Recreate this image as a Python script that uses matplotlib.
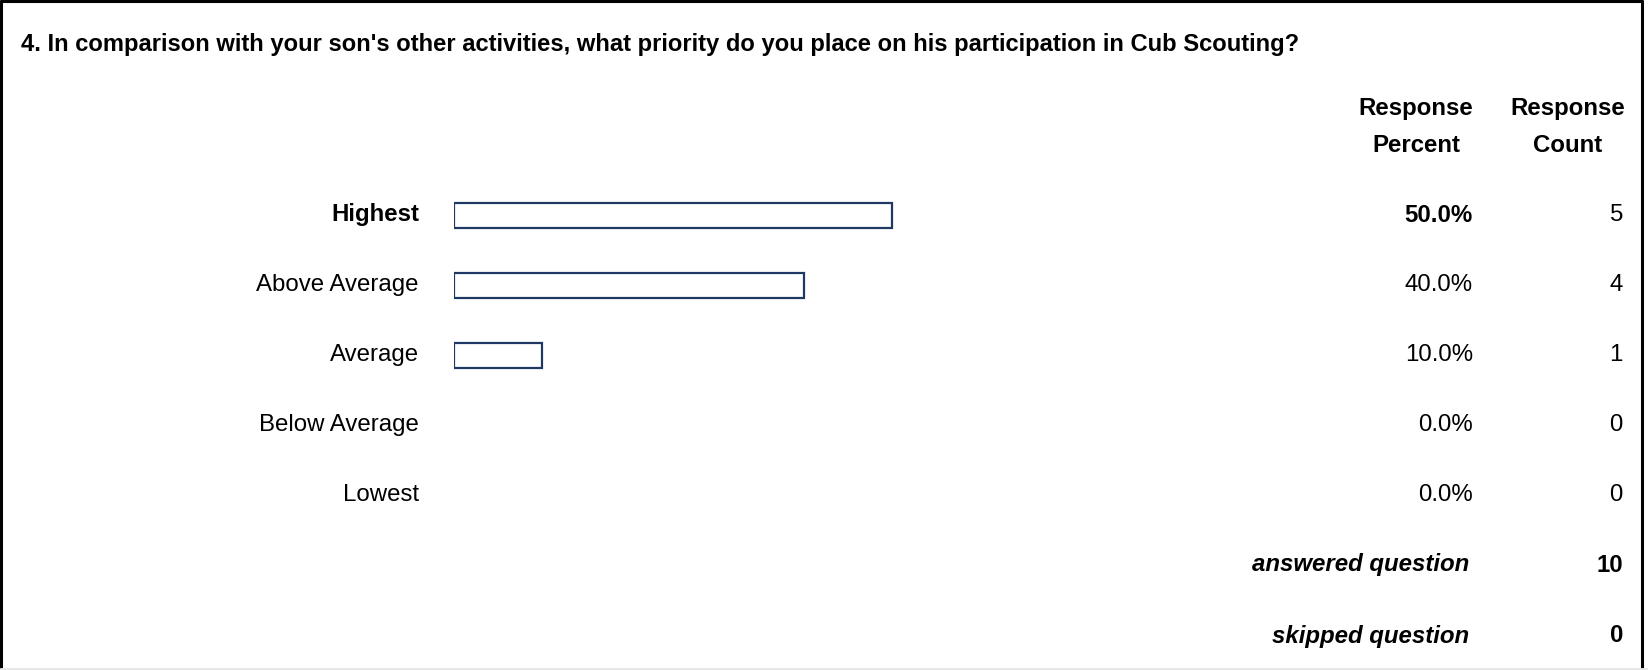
import matplotlib
matplotlib.use("Agg")
import matplotlib.pyplot as plt
from matplotlib import font_manager as fm
from matplotlib.transforms import blended_transform_factory

W, H = 1648, 670

question = "4. In comparison with your son's other activities, what priority do you place on his participation in Cub Scouting?"
categories = ["Highest", "Above Average", "Average", "Below Average", "Lowest"]
percents = [50.0, 40.0, 10.0, 0.0, 0.0]
counts = [5, 4, 1, 0, 0]
answered = 10
skipped = 0

BAR_EDGE = "#1f3864"


def liberation(style):
    # pick the regular-width Liberation Sans file (not Narrow)
    for f in fm.fontManager.ttflist:
        base = f.fname.split("/")[-1]
        if base == f"LiberationSans-{style}.ttf":
            return fm.FontProperties(fname=f.fname)
    return fm.FontProperties(family="DejaVu Sans")


REG = liberation("Regular")
BOLD = liberation("Bold")
BOLDIT = liberation("BoldItalic")

fig = plt.figure(figsize=(W / 100, H / 100), dpi=100, facecolor="white")

# overlay in pixel coordinates for text and frame
over = fig.add_axes([0, 0, 1, 1])
over.set_xlim(0, W)
over.set_ylim(H, 0)
over.axis("off")

# frame
over.plot([1.5, 1.5], [0, H - 2], color="black", lw=2.2, solid_capstyle="butt")
over.plot([0, 1643], [1, 1], color="black", lw=2.2, solid_capstyle="butt")
over.plot([1642, 1642], [0, H - 2], color="black", lw=2.2, solid_capstyle="butt")
over.plot([0, W], [H - 1.5, H - 1.5], color="#e6e6e6", lw=2, solid_capstyle="butt")

over.text(21, 44, question, ha="left", va="center", fontproperties=BOLD,
          fontsize=17.1, color="black")

# bar axes: 0..100 percent, rows by index
bx0, bx1 = 454, 1330
row0, step = 215, 70
ytop, ybot = row0 - step / 2, row0 + step * (len(categories) - 0.5)
ax = fig.add_axes([bx0 / W, 1 - ybot / H, (bx1 - bx0) / W, (ybot - ytop) / H])
ax.set_xlim(0, 100)
ax.set_ylim(len(categories) - 0.5, -0.5)
ax.axis("off")

ypos = list(range(len(categories)))
vals = [p if p > 0 else float("nan") for p in percents]
ax.barh(ypos, vals, height=25 / step, left=0, color="white",
        edgecolor=BAR_EDGE, linewidth=1.6)

FS = 17.3
tr = blended_transform_factory(over.transData, ax.transData)
for i, (cat, p, c) in enumerate(zip(categories, percents, counts)):
    fp = BOLD if i == 0 else REG
    ax.text(419, i, cat, transform=tr, ha="right", va="center",
            fontproperties=fp, fontsize=FS)
    ax.text(1473, i, f"{p:.1f}%", transform=tr, ha="right", va="center",
            fontproperties=fp, fontsize=FS)
    ax.text(1623, i, str(c), transform=tr, ha="right", va="center",
            fontproperties=REG, fontsize=FS)

# headers
for y, (a, b) in zip([109, 145], [("Response", "Response"), ("Percent", "Count")]):
    over.text(1416, y, a, ha="center", va="center", fontproperties=BOLD, fontsize=FS)
    over.text(1568, y, b, ha="center", va="center", fontproperties=BOLD, fontsize=FS)

over.text(1469, 565, "answered question", ha="right", va="center",
          fontproperties=BOLDIT, fontsize=FS)
over.text(1623, 565, str(answered), ha="right", va="center",
          fontproperties=BOLD, fontsize=FS)
over.text(1469, 636, "skipped question", ha="right", va="center",
          fontproperties=BOLDIT, fontsize=FS)
over.text(1623, 636, str(skipped), ha="right", va="center",
          fontproperties=BOLD, fontsize=FS)

fig.savefig("out.png", dpi=100, facecolor="white")
